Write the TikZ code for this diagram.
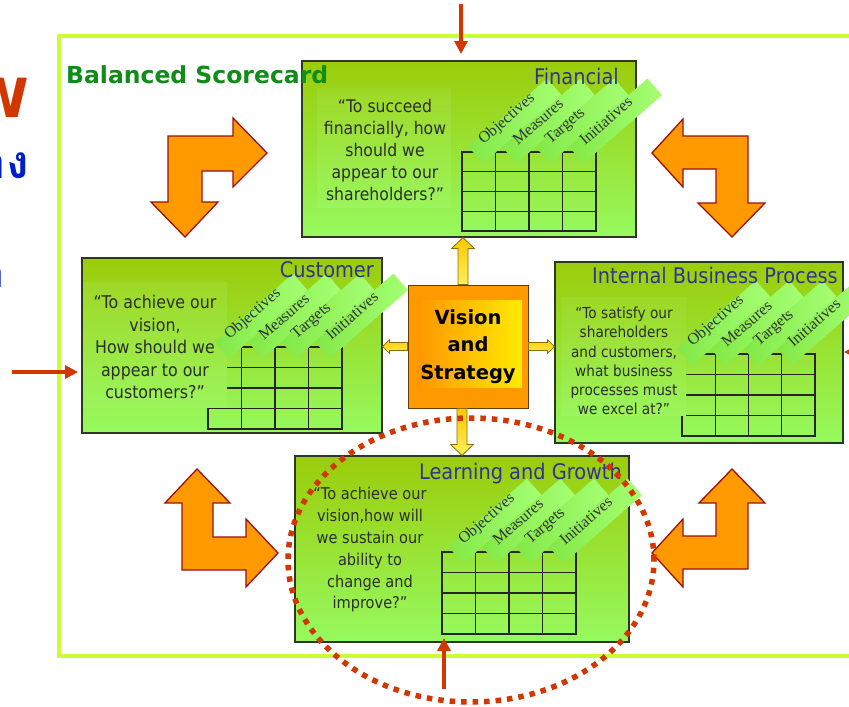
\documentclass[tikz,border=0pt]{standalone}
\usepackage{fontspec}
\usetikzlibrary{arrows.meta,calc}
\newfontfamily\bodyfont[FakeStretch=0.9]{DejaVu Sans}
\newfontfamily\headfont{DejaVu Sans}
\newfontfamily\labelfont{Liberation Serif}
\newfontfamily\thaifont[Script=Thai]{Loma}

\definecolor{frameyg}{RGB}{204,255,51}
\definecolor{bsgreen}{RGB}{16,140,24}
\definecolor{boxtop}{RGB}{155,204,10}
\definecolor{boxbot}{RGB}{150,250,95}
\definecolor{boxline}{RGB}{45,55,35}
\definecolor{titleblue}{RGB}{51,51,140}
\definecolor{qtext}{RGB}{45,45,45}
\definecolor{bannerA}{RGB}{130,232,70}
\definecolor{bannerB}{RGB}{165,255,115}
\definecolor{arrorange}{RGB}{255,153,0}
\definecolor{arredge}{RGB}{153,17,17}
\definecolor{redmark}{RGB}{210,55,0}
\definecolor{yelA}{RGB}{255,200,0}
\definecolor{yelB}{RGB}{255,240,90}
\definecolor{yeledge}{RGB}{140,110,0}
\definecolor{vsorange}{RGB}{255,150,0}
\definecolor{vsyellow}{RGB}{255,235,0}
\definecolor{thaiblue}{RGB}{0,30,200}

\tikzset{
  pbox/.style={draw=boxline, line width=1.2pt, top color=boxtop, bottom color=boxbot,
    inner sep=0pt},
  qbox/.style={top color=boxtop!78!boxbot!96!white, bottom color=boxtop!12!boxbot!96!white},
  gridline/.style={draw=black!85, line width=1.2pt, line cap=rect},
  banner/.style={rotate=41, minimum width=104pt, minimum height=22pt, inner sep=0pt,
    left color=bannerA, right color=bannerB},
  bantext/.style={rotate=41, anchor=west, inner sep=0pt, text=black!80,
    font=\labelfont\fontsize{16}{16}\selectfont},
  ptitle/.style={anchor=base east, inner sep=0pt, text=titleblue,
    font=\bodyfont\fontsize{21.5}{22}\selectfont},
  quote/.style={align=center, text=qtext, inner sep=0pt},
  bigarrow/.style={fill=arrorange, draw=arredge, line width=1.3pt, line join=miter},
  yarrow/.style={top color=yelA, bottom color=yelB, draw=yeledge, line width=0.8pt},
  redarrow/.style={draw=redmark, line width=3.5pt, -{Triangle[width=13pt,length=13pt]}},
  dotring/.style={draw=redmark, line width=5.5pt, dash pattern=on 5.5pt off 6pt},
}

% grid of 4 x 4 cells: left, top, cell width, row height
\newcommand\scoregrid[4]{%
  \foreach \i in {0,...,4}{%
    \draw[gridline] ({#1+\i*#3},#2) -- ({#1+\i*#3},{#2+4*#4});
    \draw[gridline] (#1,{#2+\i*#4}) -- ({#1+4*#3},{#2+\i*#4});
  }}
% slanted column heads: prefix, grid left, grid top, cell width, shift
\newcommand\scoreheads[5]{%
  \foreach \k/\lab [count=\c from 0] in {obj/Objectives,mea/Measures,tar/Targets,ini/Initiatives}{%
    \node[banner] (#1-\k) at ({#2+\c*#4+53+#5},{#3-31}) {};
    \node[bantext] (#1-\k-t) at ({#2+\c*#4+19+#5},{#3-10}) {\lab};
  }}

\begin{document}
\begin{tikzpicture}[x=1pt,y=-1pt]
\useasboundingbox (0,0) rectangle (849,707);
\fill[white] (0,0) rectangle (849,707);

% outer frame
\draw[frameyg, line width=4pt] (880,36) -- (59,36) -- (59,656) -- (880,656);

% turning arrows
\path[bigarrow] (168,136) -- (233,136) -- (233,118) -- (267,153) -- (233,187) -- (233,171)
  -- (202,171) -- (202,202) -- (218,202) -- (185,237) -- (151,202) -- (168,202) -- cycle;
\path[bigarrow] (652,153) -- (683,119) -- (683,136) -- (748,136) -- (748,203) -- (765,203)
  -- (732,237) -- (698,203) -- (716,203) -- (716,169) -- (683,169) -- (683,187) -- cycle;
\path[bigarrow] (197,469) -- (230,503) -- (213,503) -- (213,537) -- (246,537) -- (246,519)
  -- (278,553) -- (246,587) -- (246,570) -- (182,570) -- (182,503) -- (165,503) -- cycle;
\path[bigarrow] (732,469) -- (765,503) -- (748,503) -- (748,569) -- (683,569) -- (683,587)
  -- (652,553) -- (683,519) -- (683,536) -- (716,536) -- (716,503) -- (699,503) -- cycle;

% Financial
\node[pbox, minimum width=334pt, minimum height=176pt] (fin) at (469,149) {};
\fill[qbox] (317,88) rectangle (451,207);
\scoregrid{462}{152}{33.5}{19.75}
\node[quote, font=\bodyfont\fontsize{17.4}{21.8}\selectfont] (finq) at (385,150)
  {“To succeed\\financially, how\\should we\\appear to our\\shareholders?”};
\scoreheads{fin}{462}{152}{33.5}{0}
\node[ptitle] (fint) at (619,84) {Financial};

% Customer
\node[pbox, minimum width=300pt, minimum height=175pt] (cus) at (232,345.5) {};
\scoregrid{208}{347}{33.5}{20.5}
\fill[qbox] (83,282) rectangle (227,407);
\node[quote, font=\bodyfont\fontsize{17.6}{22.5}\selectfont] (cusq) at (155,347)
  {“To achieve our\\vision,\\How should we\\appear to our\\customers?”};
\scoreheads{cus}{208}{347}{33.5}{0}
\node[ptitle] (cust) at (374,277) {Customer};

% Internal Business Process
\node[pbox, minimum width=288pt, minimum height=181pt] (ibp) at (699,352.5) {};
\scoregrid{682}{354}{33.25}{20.5}
\fill[qbox] (562,297) rectangle (686,415);
\node[quote, font=\bodyfont\fontsize{15.2}{19.2}\selectfont] (ibpq) at (624,361)
  {“To satisfy our\\shareholders\\and customers,\\what business\\processes must\\we excel at?”};
\scoreheads{ibp}{682}{354}{33.25}{-11}
\node[ptitle] (ibpt) at (838,283) {Internal Business Process};

% Learning and Growth
\node[pbox, minimum width=334pt, minimum height=186pt] (lag) at (462,549) {};
\scoregrid{442}{552}{33.5}{20.5}
\node[quote, font=\bodyfont\fontsize{16.2}{21.8}\selectfont] (lagq) at (370,550)
  {“To achieve our\\vision,how will\\we sustain our\\ability to\\change and\\improve?”};
\scoreheads{lag}{442}{552}{33.5}{0}
\node[ptitle] (lagt) at (622,479) {Learning and Growth};

\node[anchor=base west, inner sep=0pt, text=bsgreen,
  font=\headfont\bfseries\fontsize{23.5}{24}\selectfont] (bsc) at (66,83) {Balanced Scorecard};

% Vision and Strategy with its four links
\node[draw=black!60!arrorange, line width=1pt, fill=arrorange, minimum width=120pt,
  minimum height=123pt, inner sep=0pt] (vs) at (468,346.5) {};
\fill[left color=vsorange, right color=vsyellow] (417,300) rectangle (522,387);
\node[align=center, inner sep=0pt, font=\headfont\bfseries\fontsize{19.5}{27.5}\selectfont]
  (vst) at (vs.center) {Vision\\and\\Strategy};

\path[yarrow] let \p1=($(vs.north)+(-5,0)$), \p2=(fin.south) in
  (\x1-5pt,\y1) -- (\x1-5pt,\y2-11pt) -- (\x1-11.5pt,\y2-11pt) -- (\x1,\y2)
  -- (\x1+11.5pt,\y2-11pt) -- (\x1+5pt,\y2-11pt) -- (\x1+5pt,\y1) -- cycle;
\path[yarrow] let \p1=($(vs.south)+(-6,0)$), \p2=(lag.north) in
  (\x1-5pt,\y1) -- (\x1-5pt,\y2+11pt) -- (\x1-11.5pt,\y2+11pt) -- (\x1,\y2)
  -- (\x1+11.5pt,\y2+11pt) -- (\x1+5pt,\y2+11pt) -- (\x1+5pt,\y1) -- cycle;
\path[yarrow] let \p1=(vs.west), \p2=(cus.east) in
  (\x1,\y1+4pt) -- (\x2+7pt,\y1+4pt) -- (\x2+7pt,\y1+7pt) -- (\x2,\y1)
  -- (\x2+7pt,\y1-7pt) -- (\x2+7pt,\y1-4pt) -- (\x1,\y1-4pt) -- cycle;
\path[yarrow] let \p1=(vs.east), \p2=(ibp.west) in
  (\x1,\y1+4pt) -- (\x2-7pt,\y1+4pt) -- (\x2-7pt,\y1+7pt) -- (\x2,\y1)
  -- (\x2-7pt,\y1-7pt) -- (\x2-7pt,\y1-4pt) -- (\x1,\y1-4pt) -- cycle;

% red markers
\coordinate (topA) at (461,4);   \coordinate (topB) at (461,54);
\coordinate (leftA) at (12,372); \coordinate (leftB) at (78,372);
\coordinate (botA) at (444,689); \coordinate (botB) at (444,638);
\coordinate (rgtA) at (890,352); \coordinate (rgtB) at (844,352);
\draw[redarrow] (topA) -- (topB);
\draw[redarrow] (leftA) -- (leftB);
\draw[redarrow] (botA) -- (botB);
\draw[redarrow] (rgtA) -- (rgtB);
\coordinate (ringc) at (471,560);
\draw[dotring] (ringc) ellipse [x radius=183pt, y radius=142pt];

% heading text running in from the left
\node[anchor=base east, inner sep=0pt, text=redmark,
  font=\headfont\bfseries\fontsize{54}{54}\selectfont] (hw) at (29,117) {W};
\node[anchor=base east, inner sep=0pt, text=thaiblue,
  font=\thaifont\bfseries\fontsize{46}{46}\selectfont] (hth) at (29,178) {าง};
\node[anchor=base east, inner sep=0pt, text=thaiblue,
  font=\thaifont\bfseries\fontsize{40}{40}\selectfont] (hth2) at (5,287) {า};
\end{tikzpicture}
\end{document}
